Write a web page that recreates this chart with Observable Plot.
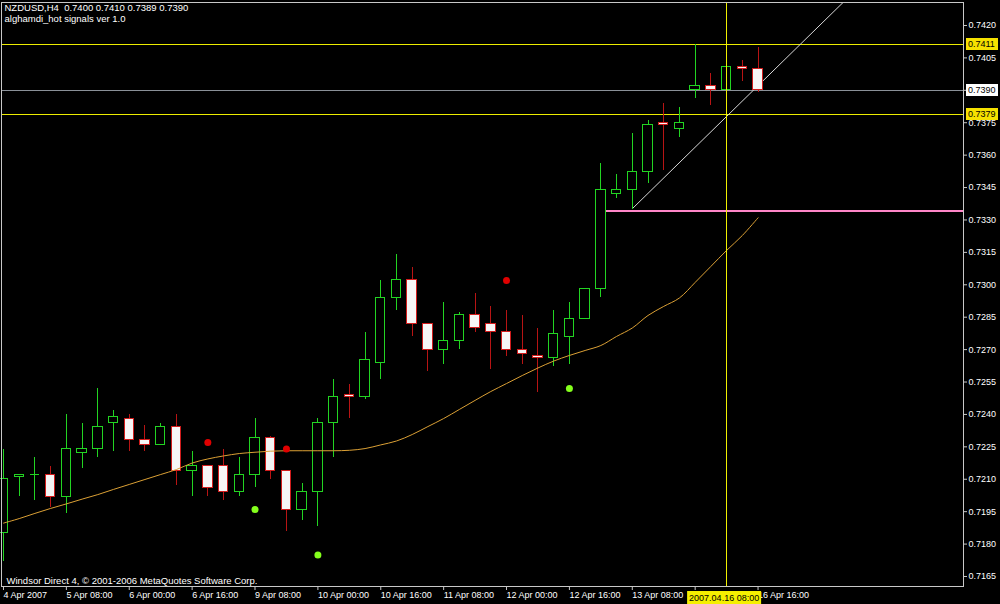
<!DOCTYPE html>
<html><head><meta charset="utf-8">
<script src="https://cdn.jsdelivr.net/npm/d3@7"></script>
<script src="https://cdn.jsdelivr.net/npm/@observablehq/plot@0.6"></script>
<style>
html,body{margin:0;padding:0;background:#000;}
#chart{width:1000px;height:604px;overflow:hidden;}
</style></head><body><div id="chart"></div>
<script>
// ---- data (NZDUSD H4, bars indexed from 4 Apr 2007 16:00) ----
const openP  = [0.7185,0.7211,0.7212,0.7212,0.7202,0.7222,0.7224,0.7236,0.7238,0.7228,
                0.7226,0.7234,0.7214,0.7216,0.7216,0.7204,0.7212,0.7229,0.7214,0.7196,
                0.7204,0.7236,0.7249,0.7248,0.7264,0.7294,0.7302,0.7282,0.7270,0.7274,
                0.7286,0.7282,0.7278,0.7270,0.7267,0.7266,0.7276,0.7284,0.7298,0.7342,
                0.7344,0.7352,0.7375,0.7372,0.7390,0.7392,0.7390,0.7401,0.7400];
const highP  = [0.7224,0.7212,0.7220,0.7216,0.7240,0.7236,0.7252,0.7242,0.7240,0.7235,
                0.7236,0.7240,0.7223,0.7216,0.7224,0.7220,0.7238,0.7230,0.7214,0.7208,
                0.7238,0.7256,0.7254,0.7278,0.7302,0.7314,0.7308,0.7282,0.7292,0.7287,
                0.7296,0.7290,0.7288,0.7286,0.7280,0.7288,0.7292,0.7298,0.7356,0.7351,
                0.7370,0.7376,0.7384,0.7382,0.7411,0.7398,0.7401,0.7404,0.7410];
const lowP   = [0.7172,0.7202,0.7200,0.7197,0.7194,0.7215,0.7220,0.7223,0.7223,0.7223,
                0.7226,0.7207,0.7202,0.7202,0.7200,0.7202,0.7206,0.7210,0.7186,0.7191,
                0.7188,0.7220,0.7238,0.7247,0.7256,0.7288,0.7276,0.7260,0.7263,0.7270,
                0.7278,0.7261,0.7267,0.7263,0.7250,0.7262,0.7263,0.7284,0.7294,0.7340,
                0.7335,0.7347,0.7353,0.7368,0.7386,0.7383,0.7390,0.7394,0.7389];
const closeP = [0.7210,0.7212,0.7212,0.7202,0.7224,0.7224,0.7234,0.7239,0.7228,0.7226,
                0.7234,0.7214,0.7216,0.7206,0.7204,0.7212,0.7229,0.7214,0.7196,0.7204,
                0.7236,0.7248,0.7248,0.7265,0.7294,0.7302,0.7282,0.7270,0.7274,0.7286,
                0.7280,0.7278,0.7270,0.7268,0.7266,0.7277,0.7284,0.7298,0.7344,0.7344,
                0.7352,0.7374,0.7374,0.7375,0.7392,0.7390,0.7401,0.7400,0.7390];
const maP    = [0.71897,0.71918,0.71942,0.71965,0.71986,0.72008,0.72029,0.72053,0.72076,0.72099,
                0.72122,0.72145,0.72175,0.72194,0.72208,0.72219,0.72225,0.72230,0.72232,0.72232,
                0.72232,0.72232,0.72234,0.72242,0.72259,0.72277,0.72307,0.72344,0.72381,0.72423,
                0.72465,0.72506,0.72543,0.72580,0.72615,0.72647,0.72673,0.72696,0.72719,0.72761,
                0.72800,0.72858,0.72900,0.72939,0.73011,0.73085,0.73159,0.73228,0.73310];
const sellBars = [13, 18, 32];
const sellPrices = [0.7227, 0.7224, 0.7302];
const buyBars = [16, 20, 36];
const buyPrices = [0.7196, 0.7175, 0.7252];
const yellowLevels = [0.7411, 0.7379];
const bidLevel = 0.7390;
const supportLevel = 0.7334;
const supportStartBar = 38;
const trendBars = [40, 56];
const trendPrices = [0.73352, 0.74491];
const crossBar = 46;
const crossLabel = "2007.04.16 08:00";
const xTickBars = [0,4,8,12,16,20,24,28,32,36,40,44,48];
const xTickLabels = ["4 Apr 2007","5 Apr 08:00","6 Apr 00:00","6 Apr 16:00","9 Apr 08:00",
  "10 Apr 00:00","10 Apr 16:00","11 Apr 08:00","12 Apr 00:00","12 Apr 16:00","13 Apr 08:00",
  "","16 Apr 16:00"];
const yTicks = [0.7165,0.7180,0.7195,0.7210,0.7225,0.7240,0.7255,0.7270,0.7285,0.7300,
                0.7315,0.7330,0.7345,0.7360,0.7375,0.7390,0.7405,0.7420];
const headerLines = ["NZDUSD,H4\u00a0\u00a00.7400 0.7410 0.7389 0.7390", "alghamdi_hot signals ver 1.0"];
const footerText = "Windsor Direct 4, \u00a9 2001-2006 MetaQuotes Software Corp.";

// ---- build ----
const bars = openP.map((o, i) => ({i, o, h: highP[i], l: lowP[i], c: closeP[i], bull: closeP[i] >= o}));
const bodies = bars.filter(d => Math.abs(d.c - d.o) > 1e-6);
const flats = bars.filter(d => Math.abs(d.c - d.o) <= 1e-6);
const maData = maP.map((v, i) => ({i, v}));
const sells = sellBars.map((b, k) => ({i: b, v: sellPrices[k]}));
const buys = buyBars.map((b, k) => ({i: b, v: buyPrices[k]}));
const trend = trendBars.map((b, k) => ({i: b, v: trendPrices[k]}));
const xLabelMap = new Map(xTickBars.map((b, k) => [b, xTickLabels[k]]));
const fmt4 = d3.format(".4f");

const X_DOMAIN = [-0.127, 61.07];
const Y_DOMAIN = [0.716037, 0.743064];
const BULL = "#22d422", BEAR = "#d01c1c", BEARWICK = "#b81414", BEARFILL = "#f6f6f6";
const HW = 0.3;
const FONT = "'Liberation Sans', Arial, sans-serif";

const chart = Plot.plot({
  width: 1000, height: 604,
  marginTop: 2, marginBottom: 18, marginLeft: 1, marginRight: 37,
  x: {domain: X_DOMAIN, axis: null},
  y: {domain: Y_DOMAIN, axis: null},
  style: {background: "#000", color: "#fff", fontFamily: FONT, fontSize: "9px"},
  marks: [
    Plot.ruleY(yellowLevels, {stroke: "#ecec00", shapeRendering: "crispEdges"}),
    Plot.ruleY([bidLevel], {stroke: "#8a9098", shapeRendering: "crispEdges"}),
    Plot.ruleY([supportLevel], {x1: supportStartBar, x2: X_DOMAIN[1], stroke: "#ff86c8", strokeWidth: 2, shapeRendering: "crispEdges"}),
    Plot.line(trend, {x: "i", y: "v", stroke: "#d8d8d8", strokeWidth: 1, clip: true}),
    Plot.ruleX(bars, {x: "i", y1: "l", y2: "h", stroke: d => d.bull ? BULL : BEARWICK, shapeRendering: "crispEdges"}),
    Plot.rect(bodies, {x1: d => d.i - HW, x2: d => d.i + HW, y1: "o", y2: "c",
      fill: d => d.bull ? "#000" : BEARFILL, stroke: d => d.bull ? BULL : BEAR, shapeRendering: "crispEdges"}),
    Plot.ruleY(flats, {y: "o", x1: d => d.i - HW, x2: d => d.i + HW, stroke: d => d.bull ? BULL : BEAR, shapeRendering: "crispEdges"}),
    Plot.line(maData, {x: "i", y: "v", stroke: "#dba035", strokeWidth: 1, curve: "catmull-rom"}),
    Plot.dot(sells, {x: "i", y: "v", r: 3.5, fill: "#e00000"}),
    Plot.dot(buys, {x: "i", y: "v", r: 3.5, fill: "#84ff1c"}),
    Plot.ruleX([crossBar], {stroke: "#f0f000", shapeRendering: "crispEdges"}),
    Plot.frame({stroke: "#c8c8c8", shapeRendering: "crispEdges"}),
    Plot.axisY(yTicks, {anchor: "right", tickSize: 3, tickPadding: 2,
      tickFormat: d => Math.abs(d - bidLevel) < 1e-9 ? "" : fmt4(d),
      fill: "#fff", stroke: "#c8c8c8", label: null}),
    Plot.axisX(xTickBars, {anchor: "bottom", tickSize: 4, tickPadding: 1, tickFormat: d => xLabelMap.get(d),
      textAnchor: "start", dx: 0, fill: "#fff", stroke: "#c8c8c8", label: null}),
    Plot.text([headerLines[0]], {frameAnchor: "top-left", dx: 3, dy: 2, lineAnchor: "top", textAnchor: "start", fill: "#fff", fontSize: 9.5}),
    Plot.text([headerLines[1]], {frameAnchor: "top-left", dx: 3, dy: 13, lineAnchor: "top", textAnchor: "start", fill: "#fff", fontSize: 9.5}),
    Plot.text([footerText], {frameAnchor: "bottom-left", dx: 5, dy: -3, lineAnchor: "bottom", textAnchor: "start", fill: "#fff", fontSize: 9.5})
  ]
});

// price / time highlight labels placed with the plot's own scales
const sx = chart.scale("x"), sy = chart.scale("y");
const svg = d3.select(chart);
const g = svg.append("g").attr("font-family", FONT).attr("font-size", "9px").attr("text-anchor", "start");
const priceBoxes = [{v: yellowLevels[0], bg: "#f5e100"}, {v: yellowLevels[1], bg: "#f5e100"}, {v: bidLevel, bg: "#ffffff"}];
for (const b of priceBoxes) {
  const yy = Math.round(sy.apply(b.v));
  g.append("rect").attr("x", 966).attr("y", yy - 6).attr("width", 32).attr("height", 12).attr("fill", b.bg);
  g.append("text").attr("x", 968).attr("y", yy).attr("dy", "0.35em").attr("text-anchor", "start").attr("fill", "#000").text(fmt4(b.v));
}
const cx = sx.apply(crossBar);
g.append("rect").attr("x", cx - 39).attr("y", 591).attr("width", 74).attr("height", 13).attr("fill", "#f5ef00");
g.append("text").attr("x", cx - 37).attr("y", 597.5).attr("dy", "0.35em").attr("text-anchor", "start").attr("fill", "#000").text(crossLabel);

document.getElementById("chart").appendChild(chart);
</script></body></html>
